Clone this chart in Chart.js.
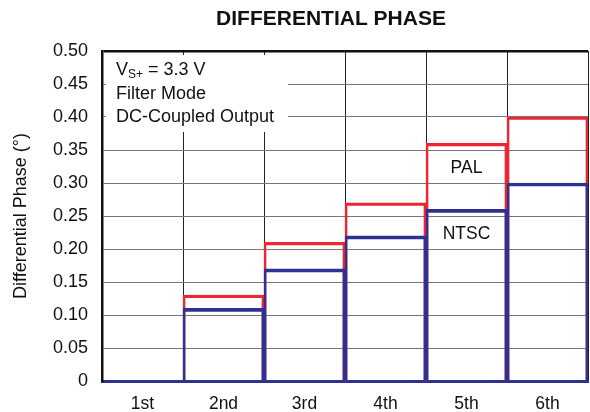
<!DOCTYPE html>
<html>
<head>
<meta charset="utf-8">
<script src="https://cdn.jsdelivr.net/npm/chart.js@4/dist/chart.umd.min.js"></script>
<style>
  html, body { margin: 0; padding: 0; background: #fff; }
  #wrap { width: 590px; height: 412px; }
</style>
</head>
<body>
<div id="wrap"><canvas id="phase_chart"></canvas></div>
<script>
// Data
const harmonics = ['1st', '2nd', '3rd', '4th', '5th', '6th'];
const ntscPhase = [0, 0.11, 0.17, 0.22, 0.26, 0.30];
const palPhase = [0, 0.13, 0.21, 0.27, 0.36, 0.40];
const yTicks = [0, 0.05, 0.10, 0.15, 0.20, 0.25, 0.30, 0.35, 0.40, 0.45, 0.50];

const RED = '#ee2631';
const BLUE = '#2e3192';
const FONT = '"Liberation Sans", Arial, sans-serif';

// title + text labels drawn over the plot
const notes = {
  id: 'notes',
  afterDraw(chart) {
    const { ctx, chartArea, scales } = chart;
    ctx.save();
    ctx.fillStyle = '#111';
    ctx.textBaseline = 'middle';

    ctx.font = 'bold 21px ' + FONT;
    ctx.textAlign = 'center';
    ctx.fillText('DIFFERENTIAL PHASE', 331, 19);

    // condition box
    const bx = chartArea.left + 4, by = chartArea.top + 4;
    ctx.fillStyle = '#fff';
    ctx.fillRect(bx, by, 182, 77);
    ctx.fillStyle = '#111';
    ctx.textAlign = 'left';
    const tx = bx + 10;
    ctx.font = '18px ' + FONT;
    ctx.fillText('V', tx, by + 15);
    const vw = ctx.measureText('V').width;
    ctx.font = '12px ' + FONT;
    ctx.fillText('S+', tx + vw, by + 20);
    const sw = ctx.measureText('S+').width;
    ctx.font = '18px ' + FONT;
    ctx.fillText(' = 3.3 V', tx + vw + sw, by + 15);
    ctx.fillText('Filter Mode', tx, by + 39);
    ctx.fillText('DC-Coupled Output', tx, by + 62);

    // series labels
    const x = scales.x.getPixelForValue(4);
    ctx.textAlign = 'center';
    ctx.font = '17.5px ' + FONT;
    ctx.fillText('PAL', x, scales.y.getPixelForValue(0.322));
    ctx.fillText('NTSC', x, scales.y.getPixelForValue(0.222));
    ctx.restore();
  }
};

new Chart(document.getElementById('phase_chart'), {
  type: 'bar',
  data: {
    labels: harmonics,
    datasets: [{
      label: 'NTSC',
      data: ntscPhase,
      backgroundColor: 'rgba(0,0,0,0)',
      borderColor: BLUE,
      borderWidth: { top: 3, left: 2, right: 2, bottom: 0 },
      grouped: false
    }, {
      label: 'PAL',
      data: palPhase,
      backgroundColor: 'rgba(0,0,0,0)',
      borderColor: RED,
      borderWidth: { top: 2.5, left: 2, right: 2, bottom: 0 },
      grouped: false
    }]
  },
  options: {
    responsive: true,
    maintainAspectRatio: false,
    animation: false,
    barPercentage: 1,
    categoryPercentage: 1,
    layout: { padding: { top: 51, right: 2, left: 0, bottom: 0 } },
    plugins: { legend: { display: false }, tooltip: { enabled: false } },
    scales: {
      x: {
        grid: { color: '#222', lineWidth: 1, drawTicks: false, offset: true },
        border: { color: BLUE, width: 3 },
        ticks: { color: '#111', font: { family: FONT, size: 17.5 }, padding: 13 },
        afterFit(scale) { scale.height = 31; }
      },
      y: {
        min: 0,
        max: 0.5,
        afterBuildTicks(scale) { scale.ticks = yTicks.map(v => ({ value: v })); },
        grid: {
          drawTicks: false,
          color: ctx => ctx.tick && ctx.tick.value === 0.5 ? '#111' : '#777',
          lineWidth: ctx => ctx.tick && ctx.tick.value === 0.5 ? 2.5 : 1
        },
        border: { color: '#111', width: 2.5 },
        ticks: {
          color: '#111',
          font: { family: FONT, size: 18 },
          padding: 14,
          callback: v => v === 0 ? '0' : v.toFixed(2)
        },
        title: {
          display: true,
          text: 'Differential Phase (°)',
          color: '#111',
          font: { family: FONT, size: 18 },
          padding: { top: 10, bottom: 0 }
        },
        afterFit(scale) { scale.width = 102; }
      }
    }
  },
  plugins: [notes]
});
</script>
</body>
</html>
